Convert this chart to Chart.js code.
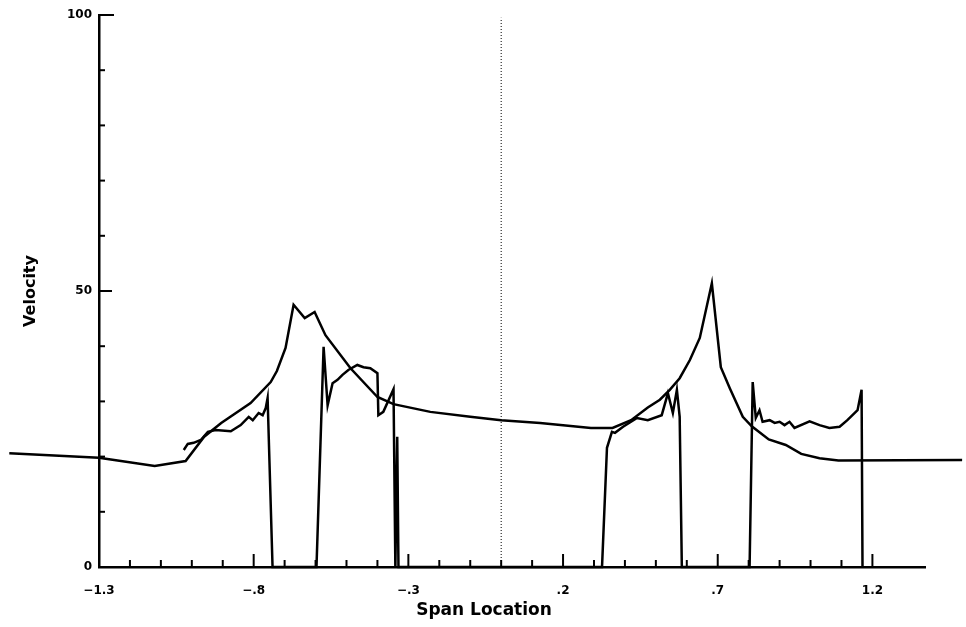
<!DOCTYPE html>
<html>
<head>
<meta charset="utf-8">
<script src="https://cdn.jsdelivr.net/npm/chart.js@4.4.1/dist/chart.umd.min.js"></script>
<style>
  html, body { margin: 0; padding: 0; background: #fff; }
  #wrap { width: 966px; height: 627px; }
</style>
</head>
<body>
<div id="wrap"><canvas id="chart"></canvas></div>
<script>
// Courbe lisse (vitesse calculée)
const smoothX = [-1.59, -1.30, -1.12, -1.02, -0.96, -0.905, -0.81, -0.745, -0.725, -0.697, -0.671, -0.635, -0.603, -0.568, -0.487, -0.40, -0.348, -0.229, -0.1, 0.0, 0.126, 0.2, 0.29, 0.36, 0.42, 0.474, 0.513, 0.545, 0.577, 0.61, 0.642, 0.681, 0.71, 0.739, 0.781, 0.81, 0.865, 0.92, 0.97, 1.029, 1.09, 1.49];
const smoothY = [20.6, 19.8, 18.3, 19.2, 23.6, 26.1, 29.7, 33.5, 35.5, 39.7, 47.5, 45.1, 46.2, 42.0, 36.0, 30.8, 29.5, 28.1, 27.2, 26.6, 26.1, 25.7, 25.2, 25.2, 26.6, 28.9, 30.3, 32.1, 34.2, 37.5, 41.5, 51.4, 36.2, 32.4, 27.2, 25.5, 23.1, 22.1, 20.5, 19.7, 19.3, 19.4];

// Courbe mesurée (retombe à zéro entre les zones)
const probeX = [-1.026, -1.013, -0.994, -0.971, -0.948, -0.923, -0.874, -0.842, -0.816, -0.803, -0.784, -0.771, -0.761, -0.755, -0.739,
  -0.597, -0.574, -0.561, -0.545, -0.529, -0.513, -0.494, -0.465, -0.445, -0.423, -0.400, -0.397, -0.381, -0.348, -0.342, -0.336, -0.332,
  0.326, 0.342, 0.358, 0.368, 0.394, 0.439, 0.474, 0.519, 0.539, 0.555, 0.568, 0.577, 0.584,
  0.803, 0.813, 0.823, 0.835, 0.845, 0.868, 0.884, 0.900, 0.916, 0.932, 0.948, 0.997, 1.029, 1.061, 1.094, 1.119, 1.152, 1.165, 1.168];
const probeY = [21.2, 22.3, 22.5, 23.0, 24.5, 24.8, 24.6, 25.7, 27.2, 26.6, 27.9, 27.5, 28.8, 30.6, 0,
  0, 39.9, 29.3, 33.3, 33.9, 34.8, 35.7, 36.6, 36.2, 36.0, 35.1, 27.5, 28.1, 32.2, 0, 23.6, 0,
  0, 21.6, 24.5, 24.3, 25.4, 27.0, 26.6, 27.5, 31.5, 27.9, 32.1, 27.2, 0,
  0, 33.5, 27.0, 28.4, 26.3, 26.6, 26.1, 26.3, 25.7, 26.3, 25.2, 26.4, 25.7, 25.2, 25.4, 26.6, 28.4, 32.1, 0];

// Ligne pointillée au centre
const centerX = [0, 0];
const centerY = [0, 99.5];

const xTickValues = [-1.3, -0.8, -0.3, 0.2, 0.7, 1.2];
const xTickLabels = ['\u22121.3', '\u2212.8', '\u2212.3', '.2', '.7', '1.2'];
const yTickValues = [0, 50, 100];
const yTickLabels = ['0', '50', '100'];

function toPoints(xs, ys) {
  return xs.map((x, i) => ({ x: x, y: ys[i] }));
}

// Petites graduations vers l'intérieur + titre de l'axe x
const innerTicks = {
  id: 'innerTicks',
  afterDraw(chart) {
    const { ctx, scales: { x, y } } = chart;
    ctx.save();
    ctx.strokeStyle = '#000';
    ctx.lineWidth = 2;
    for (let i = -12; i <= 12; i++) {
      const v = i / 10;
      const px = x.getPixelForValue(v);
      const major = xTickValues.some(t => Math.abs(t - v) < 1e-6);
      ctx.beginPath();
      ctx.moveTo(px, y.bottom);
      ctx.lineTo(px, y.bottom - (major ? 13 : 7));
      ctx.stroke();
    }
    for (let j = 1; j <= 10; j++) {
      const v = j * 10;
      const py = y.getPixelForValue(v);
      const len = v === 100 ? 15 : (v === 50 ? 13 : 6);
      ctx.beginPath();
      ctx.moveTo(x.left, py);
      ctx.lineTo(x.left + len, py);
      ctx.stroke();
    }
    ctx.fillStyle = '#000';
    ctx.font = 'bold 17px "DejaVu Sans"';
    ctx.textAlign = 'center';
    ctx.textBaseline = 'middle';
    ctx.fillText('Span Location', 484, 611);
    ctx.restore();
  }
};

new Chart(document.getElementById('chart'), {
  type: 'line',
  data: {
    datasets: [
      {
        data: toPoints(smoothX, smoothY),
        borderColor: '#000',
        borderWidth: 2.5,
        pointRadius: 0,
        tension: 0,
        clip: false
      },
      {
        data: toPoints(probeX, probeY),
        borderColor: '#000',
        borderWidth: 2.5,
        pointRadius: 0,
        tension: 0,
        clip: false
      },
      {
        data: toPoints(centerX, centerY),
        borderColor: '#000',
        borderWidth: 1,
        borderDash: [1, 2],
        pointRadius: 0,
        clip: false
      }
    ]
  },
  options: {
    responsive: true,
    maintainAspectRatio: false,
    animation: false,
    layout: { padding: { left: 0, right: 41, top: 15, bottom: 0 } },
    plugins: {
      legend: { display: false },
      tooltip: { enabled: false }
    },
    scales: {
      x: {
        type: 'linear',
        min: -1.3,
        max: 1.37,
        afterBuildTicks: scale => { scale.ticks = xTickValues.map(v => ({ value: v })); },
        afterFit: scale => { scale.height = 60; },
        grid: { display: false, drawTicks: false },
        border: { display: true, color: '#000', width: 2.5 },
        ticks: {
          autoSkip: false,
          maxRotation: 0,
          padding: 17,
          color: '#000',
          font: { family: 'DejaVu Sans', weight: 'bold', size: 12 },
          callback: (value, index) => xTickLabels[index]
        }
      },
      y: {
        min: 0,
        max: 100,
        afterBuildTicks: scale => { scale.ticks = yTickValues.map(v => ({ value: v })); },
        afterFit: scale => { scale.width = 99; },
        grid: { display: false, drawTicks: false },
        border: { display: true, color: '#000', width: 2.5 },
        ticks: {
          padding: 7,
          color: '#000',
          font: { family: 'DejaVu Sans', weight: 'bold', size: 12 },
          callback: (value, index) => yTickLabels[index]
        },
        title: {
          display: true,
          text: 'Velocity',
          color: '#000',
          padding: { top: 21, bottom: 0 },
          font: { family: 'DejaVu Sans', weight: 'bold', size: 16 }
        }
      }
    }
  },
  plugins: [innerTicks]
});
</script>
</body>
</html>
